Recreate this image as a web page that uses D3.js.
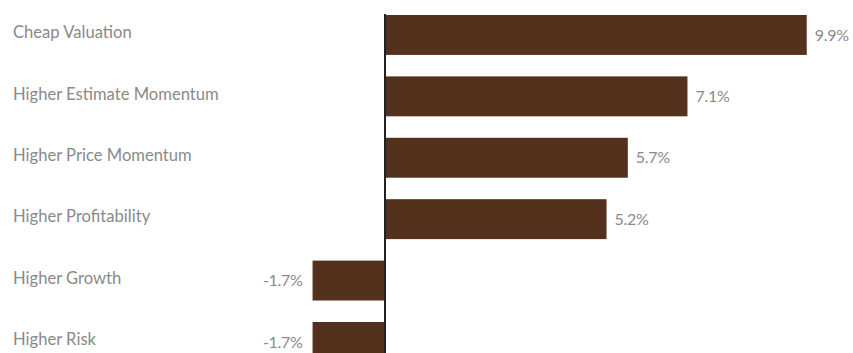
<!DOCTYPE html>
<html>
<head>
<meta charset="utf-8">
<script src="https://cdn.jsdelivr.net/npm/d3@7"></script>
<style>
	html, body { margin: 0; padding: 0; background: #fff; }
	svg { display: block; }
	text { font-family: Lato, "Open Sans", sans-serif; fill: #8a8a8a; }
</style>
</head>
<body>
<div id="chart"></div>
<script>

const width = 853, height = 353;

const categories = [
	"Cheap Valuation",
	"Higher Estimate Momentum",
	"Higher Price Momentum",
	"Higher Profitability",
	"Higher Growth",
	"Higher Risk"
];
const values = [ 9.9, 7.1, 5.7, 5.2, -1.7, -1.7 ];

const data = categories.map( ( c, i ) => ( { name: c, value: values[ i ] } ) );

let svg = d3.select( "#chart" )
	.append( "svg" )
		.attr( "width", width )
		.attr( "height", height );

let x = d3.scaleLinear()
	.domain( [ -2, 10 ] )
	.range( [ 299.8, 811 ] );

let y = d3.scaleBand()
	.domain( categories )
	.range( [ 15, 15 + 61.4 * ( categories.length - 0.35 ) ] )
	.paddingInner( 0.35 )
	.paddingOuter( 0 );

// bars
svg.append( "g" )
	.selectAll( "rect" )
	.data( data )
	.join( "rect" )
		.attr( "x", d => x( Math.min( 0, d.value ) ) )
		.attr( "y", d => y( d.name ) )
		.attr( "width", d => Math.abs( x( d.value ) - x( 0 ) ) )
		.attr( "height", y.bandwidth() )
		.attr( "fill", "#54311c" );

// category labels
svg.append( "g" )
	.selectAll( "text" )
	.data( data )
	.join( "text" )
		.attr( "x", 13 )
		.attr( "y", d => y( d.name ) + y.bandwidth() / 2 )
		.attr( "dy", "0.2em" )
		.attr( "font-size", 16.6 )
		.text( d => d.name );

// value labels
svg.append( "g" )
	.selectAll( "text" )
	.data( data )
	.join( "text" )
		.attr( "x", d => d.value < 0 ? x( d.value ) - 10 : x( d.value ) + 8 )
		.attr( "y", d => y( d.name ) + y.bandwidth() / 2 )
		.attr( "dy", "0.35em" )
		.attr( "text-anchor", d => d.value < 0 ? "end" : "start" )
		.attr( "font-size", 16 )
		.style( "letter-spacing", "-0.3px" )
		.text( d => d.value.toFixed( 1 ) + "%" );

// zero line
svg.append( "line" )
	.attr( "x1", x( 0 ) )
	.attr( "x2", x( 0 ) )
	.attr( "y1", 14 )
	.attr( "y2", height )
	.attr( "stroke", "#222" )
	.attr( "stroke-width", 2 );

</script>
</body>
</html>
